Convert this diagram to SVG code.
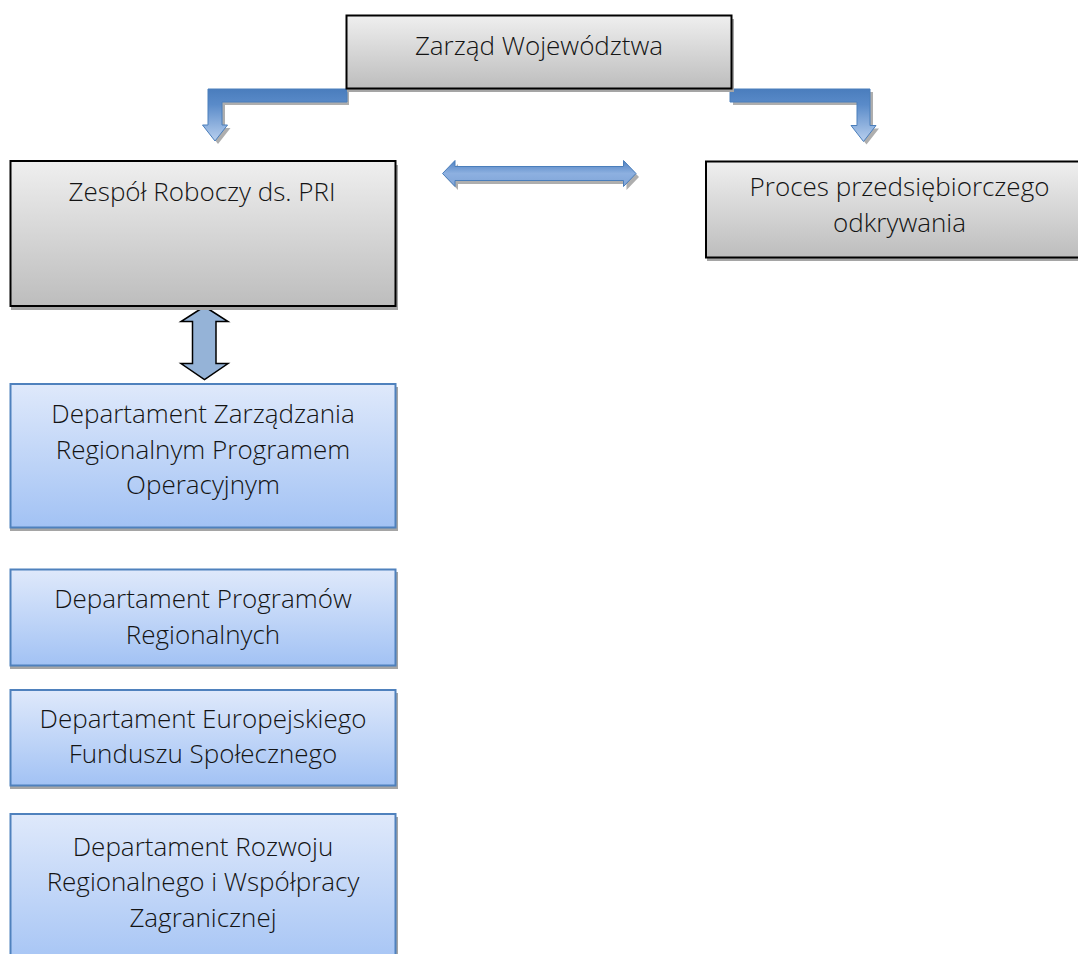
<svg xmlns="http://www.w3.org/2000/svg" width="1078" height="954" viewBox="0 0 1078 954">
<defs>
<linearGradient id="gGrey" x1="0" y1="0" x2="0" y2="1">
<stop offset="0" stop-color="#efefef"/>
<stop offset="1" stop-color="#bdbdbd"/>
</linearGradient>
<linearGradient id="gBlue" x1="0" y1="0" x2="0" y2="1">
<stop offset="0" stop-color="#dfe9fb"/>
<stop offset="1" stop-color="#a2c2f4"/>
</linearGradient>
<linearGradient id="gBent" x1="0" y1="0" x2="0" y2="1">
<stop offset="0" stop-color="#4a7dbd"/>
<stop offset="0.3" stop-color="#5a8bc9"/>
<stop offset="1" stop-color="#b8cfee"/>
</linearGradient>
<linearGradient id="gHoriz" x1="0" y1="0" x2="0" y2="1">
<stop offset="0" stop-color="#4f81c2"/>
<stop offset="0.5" stop-color="#8db0e0"/>
<stop offset="1" stop-color="#7fa4d8"/>
</linearGradient>
</defs>
<style>
.grey{fill:url(#gGrey);stroke:#000;stroke-width:2}
.blue{fill:url(#gBlue);stroke:#4f81bd;stroke-width:2}
.shadow{fill:#a5a5a5}
.ashadow{fill:#9a9a9a;opacity:0.8}
.bent{fill:url(#gBent);stroke:#4a7ebb;stroke-width:1}
.horiz{fill:url(#gHoriz);stroke:#4a7ebb;stroke-width:1}
.vert{fill:#95b3d7;stroke:#000;stroke-width:1.5}
text{font-family:"Open Sans","Noto Sans","Liberation Sans",sans-serif;font-weight:300;font-size:26px;fill:#141414;text-anchor:middle}
</style>
<rect width="1078" height="954" fill="#fff"/>

<g id="connectors">
<path class="ashadow" d="M349,92 L211,92 L211,128 L205.5,128 L218,144 L230.5,128 L225,128 L225,105 L349,105 Z"/>
<path class="bent" d="M347,89 L208,89 L208,125 L202.5,125 L215,141 L227.5,125 L222,125 L222,102 L347,102 Z"/>
<path class="ashadow" d="M733,92 L873,92 L873,128.5 L879,128.5 L866.5,144.5 L854,128.5 L860,128.5 L860,105 L733,105 Z"/>
<path class="bent" d="M730,89 L870,89 L870,125.5 L876,125.5 L863.5,141.5 L851,125.5 L857,125.5 L857,102 L730,102 Z"/>
<path class="ashadow" d="M445.5,177 L458,164 L458,170 L626.5,170 L626.5,164 L639,177 L626.5,190 L626.5,184 L458,184 L458,190 Z"/>
<path class="horiz" d="M442.5,173.5 L455,160.5 L455,166.5 L623.5,166.5 L623.5,160.5 L636,173.5 L623.5,186.5 L623.5,180.5 L455,180.5 L455,186.5 Z"/>
<path class="vert" d="M204.5,306.5 L228,321.5 L216,321.5 L216,363.5 L228,363.5 L204.5,379.5 L181,363.5 L192.5,363.5 L192.5,321.5 L181,321.5 Z"/>
</g>

<g id="zarzad">
<rect class="shadow" x="347" y="19" width="387" height="73"/>
<rect class="grey" x="346.5" y="15.5" width="385" height="73"/>
<text x="539" y="55">Zarząd Województwa</text>
</g>

<g id="zespol">
<rect class="shadow" x="11" y="165" width="387" height="145"/>
<rect class="grey" x="10.5" y="161" width="385" height="145"/>
<text x="202" y="201">Zespół Roboczy ds. PRI</text>
</g>

<g id="proces">
<rect class="shadow" x="707" y="161" width="387" height="100"/>
<rect class="grey" x="706" y="161.5" width="387" height="96"/>
<text x="899.5" y="196">Proces przedsiębiorczego</text>
<text x="899.5" y="231.5">odkrywania</text>
</g>

<g id="dept1">
<rect class="shadow" x="10" y="387" width="388" height="144"/>
<rect class="blue" x="10.5" y="384" width="385" height="143.5"/>
<text x="203" y="423">Departament Zarządzania</text>
<text x="203" y="458.5">Regionalnym Programem</text>
<text x="203" y="494">Operacyjnym</text>
</g>

<g id="dept2">
<rect class="shadow" x="10" y="572" width="388" height="97"/>
<rect class="blue" x="10.5" y="569.5" width="385" height="96"/>
<text x="203" y="608">Departament Programów</text>
<text x="203" y="643.5">Regionalnych</text>
</g>

<g id="dept3">
<rect class="shadow" x="10" y="693" width="388" height="96"/>
<rect class="blue" x="10.5" y="690" width="385" height="95.5"/>
<text x="203" y="727.5">Departament Europejskiego</text>
<text x="203" y="763">Funduszu Społecznego</text>
</g>

<g id="dept4">
<rect class="shadow" x="10" y="817" width="388" height="160"/>
<rect class="blue" x="10.5" y="814" width="385" height="160"/>
<text x="203" y="855.5">Departament Rozwoju</text>
<text x="203" y="891">Regionalnego i Współpracy</text>
<text x="203" y="926.5">Zagranicznej</text>
</g>
</svg>
